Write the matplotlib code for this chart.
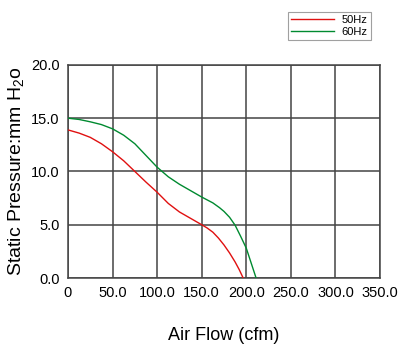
import matplotlib
matplotlib.use("Agg")
import matplotlib.pyplot as plt

# fan P-Q curves, read at roughly 12.5 cfm steps
flow_50 = [0, 12.5, 25, 37.5, 50, 62.5, 75, 87.5, 100, 112.5, 125, 137.5,
           150, 156, 162.5, 168.75, 175, 181.25, 187.5, 192, 196.5]
pres_50 = [13.9, 13.6, 13.2, 12.6, 11.85, 11.0, 10.0, 9.0, 8.05, 7.0, 6.2,
           5.6, 5.0, 4.7, 4.3, 3.75, 3.1, 2.35, 1.5, 0.8, 0.0]
flow_60 = [0, 12.5, 25, 37.5, 50, 62.5, 75, 87.5, 100, 112.5, 125, 137.5,
           150, 162.5, 170, 175, 181.25, 187.5, 193.75, 200, 205.5, 211]
pres_60 = [15.0, 14.88, 14.66, 14.4, 14.0, 13.4, 12.6, 11.5, 10.4, 9.5, 8.8,
           8.2, 7.6, 7.05, 6.6, 6.25, 5.7, 4.95, 3.9, 2.8, 1.4, 0.0]

x_ticks = [0, 50, 100, 150, 200, 250, 300, 350]
x_labels = ["0", "50.0", "100.0", "150.0", "200.0", "250.0", "300.0", "350.0"]
y_ticks = [0, 5, 10, 15, 20]
y_labels = ["0.0", "5.0", "10.0", "15.0", "20.0"]

plt.rcParams["font.family"] = ["Liberation Sans", "DejaVu Sans"]
plt.rcParams["mathtext.fontset"] = "custom"
plt.rcParams["mathtext.rm"] = "Liberation Sans"

fig = plt.figure(figsize=(4.0, 3.49), dpi=100)
ax = fig.add_axes([0.17, 0.2034, 0.78, 0.6106])

grid_c = "#444444"
ax.plot(flow_50, pres_50, color="#e01010", lw=1.0, label="50Hz", zorder=3)
ax.plot(flow_60, pres_60, color="#008a30", lw=1.0, label="60Hz", zorder=3)

ax.set_xlim(0, 350)
ax.set_ylim(0, 20)
ax.set_xticks(x_ticks)
ax.set_xticklabels(x_labels)
ax.set_yticks(y_ticks)
ax.set_yticklabels(y_labels)
ax.tick_params(length=0, labelsize=10.5, pad=6, colors="black")
ax.grid(True, color=grid_c, lw=1.1)
for s in ax.spines.values():
    s.set_color(grid_c)
    s.set_linewidth(1.1)

ax.set_xlabel("Air Flow (cfm)", fontsize=13, labelpad=19)
ax.set_ylabel("Static Pressure:mm H$_2$o", fontsize=14, labelpad=3)

leg = fig.legend(loc="upper left", bbox_to_anchor=(0.72, 0.966), fontsize=8,
                 frameon=True, fancybox=False, handlelength=3.8,
                 borderaxespad=0, borderpad=0.3, labelspacing=0.15,
                 handletextpad=0.7)
leg.get_frame().set_edgecolor("#888888")
leg.get_frame().set_linewidth(0.8)

fig.savefig("out.png", dpi=100)
